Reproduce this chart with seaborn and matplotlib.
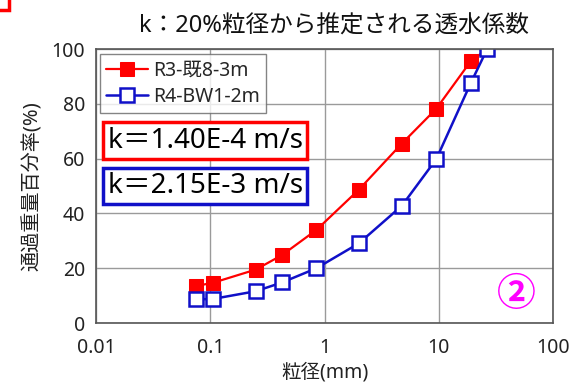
import matplotlib
matplotlib.use("Agg")
import matplotlib.pyplot as plt
from matplotlib.patches import Rectangle
from matplotlib.ticker import FixedLocator, NullLocator
import numpy as np
import pandas as pd
import seaborn as sns

# Sieve sizes (mm) and percent passing for each sample
sieve_mm = [0.075, 0.106, 0.25, 0.425, 0.85, 2.0, 4.75, 9.5, 19.0, 26.5]
r3_passing = [13.5, 14.7, 19.5, 24.8, 34.0, 48.7, 65.5, 78.2, 95.5, 100.0]
bw1_passing = [8.6, 8.8, 11.6, 14.8, 20.0, 29.1, 42.8, 59.8, 87.5, 100.0]

series_names = ["R3-既8-3m", "R4-BW1-2m"]
k_labels = ["k＝1.40E-4 m/s", "k＝2.15E-3 m/s"]
x_ticks = [0.01, 0.1, 1, 10, 100]
x_tick_labels = ["0.01", "0.1", "1", "10", "100"]
y_ticks = [0, 20, 40, 60, 80, 100]

title_text = "k：20%粒径から推定される透水係数"
x_label = "粒径(mm)"
y_label = "通過重量百分率(%)"

sns.set_style("white")
plt.rcParams["font.family"] = ["Noto Sans", "Noto Sans CJK JP", "DejaVu Sans"]

df = pd.DataFrame({
    "size": sieve_mm * 2,
    "passing": r3_passing + bw1_passing,
    "sample": [series_names[0]] * len(sieve_mm) + [series_names[1]] * len(sieve_mm),
})

fig = plt.figure(figsize=(5.83, 3.88), dpi=100)
ax = fig.add_axes([0.1647, 0.1675, 0.784, 0.7062])

red = "#FF0000"
blue = "#1010C8"

sns.lineplot(data=df[df["sample"] == series_names[0]], x="size", y="passing",
             ax=ax, color=red, lw=1.6, marker="s", markersize=10,
             markerfacecolor=red, markeredgecolor=red, label=series_names[0])
sns.lineplot(data=df[df["sample"] == series_names[1]], x="size", y="passing",
             ax=ax, color=blue, lw=1.8, marker="s", markersize=9.5,
             markerfacecolor="white", markeredgecolor=blue, markeredgewidth=1.8,
             label=series_names[1])

ax.set_xscale("log")
ax.set_xlim(0.01, 100)
ax.set_ylim(0, 100)
ax.xaxis.set_major_locator(FixedLocator(x_ticks))
ax.xaxis.set_minor_locator(NullLocator())
ax.set_xticklabels(x_tick_labels)
ax.set_yticks(y_ticks)
ax.grid(True, color="#9a9a9a", lw=1)
for s in ax.spines.values():
    s.set_color("#555555")
    s.set_linewidth(1.2)
ax.tick_params(axis="both", direction="inout", length=8, width=1, color="#555555",
               labelsize=14, labelcolor="#222222")
ax.tick_params(axis="x", pad=7)
ax.tick_params(axis="y", pad=4)

ax.set_xlabel(x_label, fontsize=14, color="#222222", labelpad=3)
ax.set_ylabel(y_label, fontsize=14.5, color="#222222", labelpad=6)
ax.set_title(title_text, fontsize=17, color="#111111", pad=12, x=0.52)

leg = ax.legend(loc="upper left", bbox_to_anchor=(0.008, 0.98), fontsize=14,
                frameon=True, fancybox=False, edgecolor="#666666",
                borderpad=0.3, handlelength=2.2, handletextpad=0.25, labelspacing=0.35,
                borderaxespad=0)
leg.get_frame().set_linewidth(1.0)

for label, col, yy in zip(k_labels, [red, blue], [0.666, 0.5]):
    ax.text(0.026, yy, label, transform=ax.transAxes, fontsize=20, color="black",
            va="center", ha="left",
            bbox=dict(boxstyle="square,pad=0.16", facecolor="white", edgecolor=col, lw=2.5))

ax.text(0.92, 0.105, "②", transform=ax.transAxes, fontsize=28, color="#FF00FF",
        fontweight="bold", ha="center", va="center",
        family=["Noto Sans CJK JP", "DejaVu Sans"])

fig.add_artist(Rectangle((-0.05, 0.975), 0.066, 0.08, transform=fig.transFigure,
                         fill=False, edgecolor=red, lw=2.5))

fig.savefig("out.png", dpi=100, facecolor="white")
